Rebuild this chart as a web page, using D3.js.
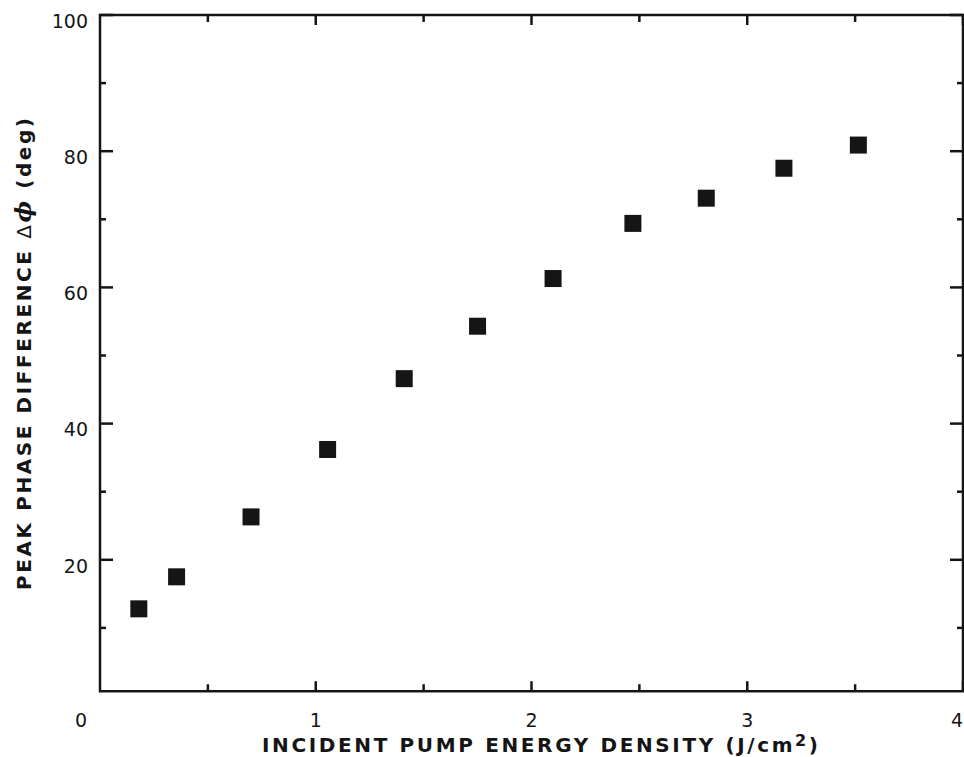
<!DOCTYPE html>
<html><head><meta charset="utf-8">
<script src="https://cdn.jsdelivr.net/npm/d3@7"></script>
<style>body{margin:0;background:#fff}svg{display:block}</style>
</head><body>
<svg id="c" width="964" height="757"></svg>
<script>
const energy = [0.18, 0.355, 0.70, 1.055, 1.41, 1.75, 2.10, 2.47, 2.81, 3.17, 3.515];
const phase  = [12.8, 17.5, 26.3, 36.2, 46.6, 54.3, 61.3, 69.4, 73.1, 77.5, 80.9];
const yMajor = [20, 40, 60, 80, 100];
const yMinor = [10, 30, 50, 70, 90];
const xMajor = [1, 2, 3, 4];
const xMinor = [0.5, 1.5, 2.5, 3.5];

(function () {
const svg = d3.select("#c");
const x = d3.scaleLinear().domain([0, 4]).range([100, 963]);
const y = d3.scaleLinear().domain([0, 100]).range([696, 15]);
const yB = y(0.7), yT = y(100), xL = x(0), xR = x(4);
const font = "'DejaVu Sans', sans-serif";
const ink = "#151515";

svg.append("rect").attr("x", xL).attr("y", yT).attr("width", xR-xL).attr("height", yB-yT)
  .attr("fill", "none").attr("stroke", ink).attr("stroke-width", 2.5);

const g = svg.append("g").attr("stroke", ink).attr("stroke-width", 2.5);
yMajor.concat(yMinor).forEach(v => {
  const L = yMajor.includes(v) ? 13 : 6;
  g.append("line").attr("x1", xL).attr("x2", xL+L).attr("y1", y(v)).attr("y2", y(v));
  g.append("line").attr("x1", xR).attr("x2", xR-L).attr("y1", y(v)).attr("y2", y(v));
});
xMajor.concat(xMinor).forEach(v => {
  const L = xMajor.includes(v) ? 10 : 7;
  g.append("line").attr("x1", x(v)).attr("x2", x(v)).attr("y1", yB).attr("y2", yB-L);
  g.append("line").attr("x1", x(v)).attr("x2", x(v)).attr("y1", yT).attr("y2", yT+L);
});

svg.append("g").selectAll("text").data(yMajor).join("text")
  .attr("x", xL-12).attr("y", d => y(d) + 6).attr("dy", "0.36em")
  .attr("text-anchor", "end").attr("font-family", font).attr("font-size", 19).attr("fill", ink)
  .text(d => d);
svg.append("g").selectAll("text").data(xMajor).join("text")
  .attr("x", d => x(d) - (d === 4 ? 6 : 0)).attr("y", 727)
  .attr("text-anchor", "middle").attr("font-family", font).attr("font-size", 19).attr("fill", ink)
  .text(d => d);
svg.append("text").attr("x", x(0)-19).attr("y", 727).attr("text-anchor", "middle")
  .attr("font-family", font).attr("font-size", 19).attr("fill", ink).text("0");

svg.append("text").attr("x", 540).attr("y", 752).attr("text-anchor", "middle")
  .attr("font-family", font).attr("font-size", 20).attr("font-weight", "bold").attr("fill", ink)
  .attr("textLength", 556).attr("lengthAdjust", "spacing")
  .html("INCIDENT&#160;PUMP&#160;ENERGY&#160;DENSITY&#160;(J/cm<tspan dy='-6' font-size='16'>2</tspan><tspan dy='6'>)</tspan>");
svg.append("text").attr("transform", "translate(31,354) rotate(-90)").attr("text-anchor", "middle")
  .attr("font-family", font).attr("font-size", 20).attr("font-weight", "bold").attr("fill", ink)
  .attr("textLength", 472).attr("lengthAdjust", "spacing")
  .html("PEAK&#160;PHASE&#160;DIFFERENCE&#160;<tspan font-weight='normal'>Δ</tspan><tspan font-style='italic' font-size='23' font-family=\"'DejaVu Serif'\">ϕ</tspan>&#160;(deg)");

const s = 17;
svg.append("g").selectAll("rect").data(energy.map((e, i) => [e, phase[i]])).join("rect")
  .attr("x", d => x(d[0]) - s/2).attr("y", d => y(d[1]) - s/2)
  .attr("width", s).attr("height", s).attr("fill", ink);
})();
</script>
</body></html>
